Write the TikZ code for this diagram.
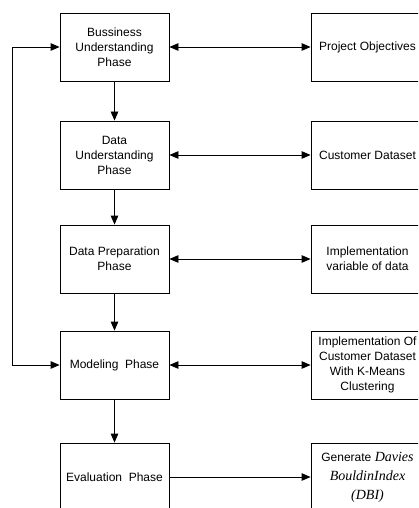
\documentclass[tikz,border=0pt]{standalone}
\usepackage{fontspec}
\setmainfont{Liberation Sans}
\newfontfamily\dbifont{Liberation Serif}
\usetikzlibrary{arrows.meta}
\tikzset{
  phasebox/.style={draw,line width=0.8pt,minimum width=109pt,minimum height=68pt,align=center,inner sep=1pt,font=\fontsize{12}{15}\selectfont},
  outbox/.style={phasebox,minimum width=113pt},
  link/.style={line width=0.8pt,{Triangle[length=9pt,width=7.5pt]}-{Triangle[length=9pt,width=7.5pt]}},
  flow/.style={line width=0.8pt,-{Triangle[length=9pt,width=7.5pt]}}
}
\newcommand{\phase}[4]{\node[phasebox] (#1) at (#2,#3) {#4};}
\newcommand{\result}[3]{\node[outbox] (#1) at (367.5,#2) {#3};}
\newcommand{\dbi}[1]{{\dbifont\itshape\fontsize{14}{19}\selectfont #1}}
\begin{document}
\begin{tikzpicture}[x=1pt,y=-1pt]
\useasboundingbox (0,0) rectangle (418,508);
\clip (0,0) rectangle (418,508);
% left column
\phase{bus}{114.5}{47}{Bussiness\\Understanding\\Phase}
\phase{dat}{114.5}{155}{Data\\Understanding\\Phase}
\phase{prep}{114.5}{259}{Data Preparation\\Phase}
\phase{model}{114.5}{365}{Modeling\ \ Phase}
\phase{eval}{114.5}{477}{Evaluation\ \ Phase}
% right column
\result{obj}{47}{Project Objectives}
\result{cust}{155}{Customer Dataset}
\result{impl}{259}{Implementation\\variable of data}
\result{kmeans}{365}{Implementation Of\\Customer Dataset\\With K-Means\\Clustering}
\node[outbox,font=\fontsize{12}{19}\selectfont] (dbi) at (367.5,477) {Generate \dbi{Davies}\\\dbi{BouldinIndex}\\\dbi{(DBI)}};
% arrows
\draw[flow] (bus) -- (dat);
\draw[flow] (dat) -- (prep);
\draw[flow] (prep) -- (model);
\draw[flow] (model) -- (eval);
\draw[link] (bus) -- (obj);
\draw[link] (dat) -- (cust);
\draw[link] (prep) -- (impl);
\draw[link] (model) -- (kmeans);
\draw[flow] (eval) -- (dbi);
\coordinate (back) at (12,47);
\draw[link] (bus.west) -- (back) |- (model.west);
\end{tikzpicture}
\end{document}
